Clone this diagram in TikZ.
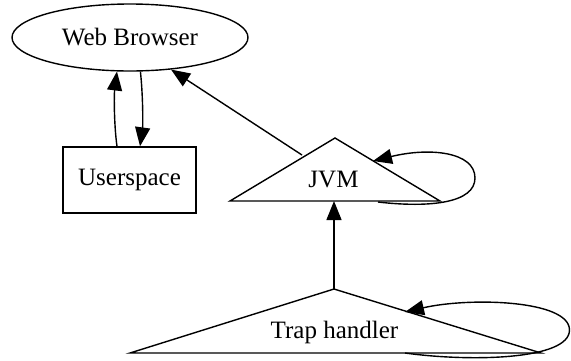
\documentclass[tikz,border=0pt]{standalone}
\usepackage{fontspec}
\setmainfont{Liberation Serif}
\usetikzlibrary{arrows.meta,shapes.geometric}
\begin{document}
\begin{tikzpicture}[x=1pt,y=-1pt,
  every node/.style={font=\fontsize{25}{30}\selectfont},
  shp/.style={draw=black,line width=1.4pt},
  edge/.style={draw=black,line width=1.4pt,-{Triangle[length=19pt,width=15pt]}},
  lbl/.style={inner sep=0pt,anchor=base}]
\useasboundingbox (0,0) rectangle (571,360);
% Web Browser
\node[shp,ellipse,minimum width=236pt,minimum height=67pt,inner sep=0pt] (wb) at (130,37.5) {Web Browser};
% Userspace
\node[shp,rectangle,minimum width=133pt,minimum height=66pt,inner sep=0pt] (us) at (129.5,180) {Userspace};
% JVM triangle
\coordinate (jvmT) at (335,138);
\coordinate (jvmL) at (230,201);
\coordinate (jvmR) at (440,201);
\coordinate (jvmB) at (334,201);
\coordinate (jvmE) at (302,155);
\coordinate (jvmLoopS) at (378,202);
\coordinate (jvmLoopE) at (373,161);
\draw[shp,line join=miter] (jvmT) -- (jvmR) -- (jvmL) -- cycle;
\node[lbl] (jvm) at (333.5,187) {JVM};
% Trap handler triangle
\coordinate (trT) at (334,289);
\coordinate (trL) at (130,353);
\coordinate (trR) at (541,353);
\coordinate (trLoopS) at (405,353);
\coordinate (trLoopE) at (405,312);
\draw[shp,line join=miter] (trT) -- (trR) -- (trL) -- cycle;
\node[lbl] (trap) at (334.5,338) {Trap handler};
% edges
\draw[edge] ([xshift=-12.5pt]us.north) .. controls (114,125) and (114,95) .. (wb.-111);
\draw[edge] (wb.-73) .. controls (143,95) and (143,125) .. ([xshift=10.5pt]us.north);
\draw[edge] (jvmE) -- (wb.-38);
\draw[edge] (trT) -- (jvmB);
\draw[edge] (jvmLoopS) .. controls (430,208) and (475,203) .. (475,178) .. controls (475,152) and (430,147) .. (jvmLoopE);
\draw[edge] (trLoopS) .. controls (470,362) and (569.5,360) .. (569.5,330) .. controls (569.5,300) and (470,297) .. (trLoopE);
\end{tikzpicture}
\end{document}
